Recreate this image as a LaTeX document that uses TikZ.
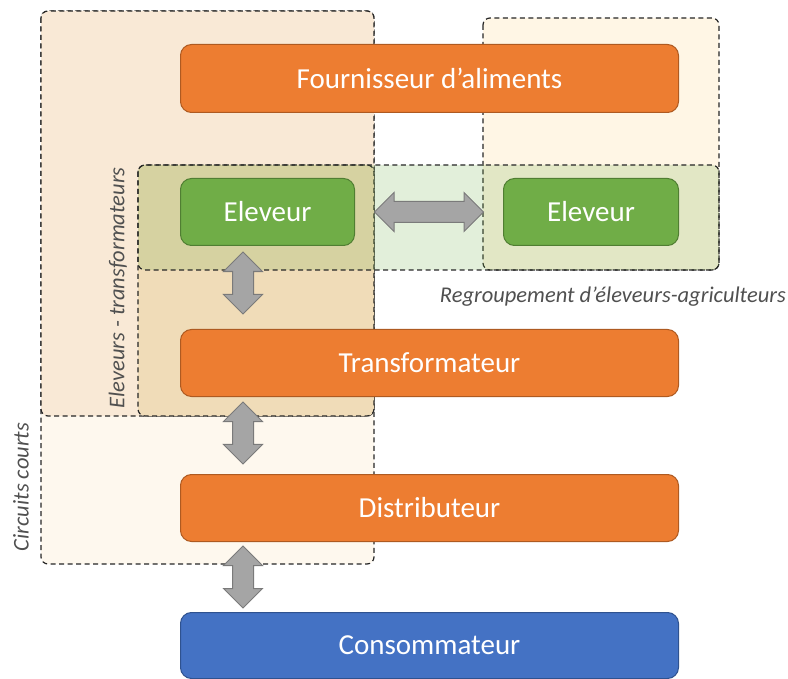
\documentclass[tikz,border=0pt]{standalone}
\usepackage{fontspec}
\setmainfont{Carlito}
\usetikzlibrary{shapes.arrows,calc}
\definecolor{orangebox}{HTML}{ED7D31}
\definecolor{orangeline}{HTML}{AE5A21}
\definecolor{greenbox}{HTML}{70AD47}
\definecolor{greenline}{HTML}{507E32}
\definecolor{bluebox}{HTML}{4472C4}
\definecolor{blueline}{HTML}{2F528F}
\definecolor{arrowfill}{HTML}{A5A5A5}
\definecolor{arrowline}{HTML}{7A7A7A}
\definecolor{ccfill}{HTML}{FEF8EE}
\definecolor{ccupper}{HTML}{F9E9D6}
\definecolor{etfill}{HTML}{F0DCB8}
\definecolor{rgfill}{HTML}{FFF6E5}
\definecolor{labelgray}{HTML}{505050}
\tikzset{
  region/.style={draw=black!85, line width=1.2pt, dash pattern=on 5pt off 3.5pt, rounded corners=7pt},
  boxbase/.style={rectangle, rounded corners=11pt, line width=1pt, text=white,
    font=\fontsize{29}{34}\selectfont, inner sep=0pt, anchor=north west},
  orangebox/.style={boxbase, fill=orangebox, draw=orangeline},
  greenbox/.style={boxbase, fill=greenbox, draw=greenline},
  bluebox/.style={boxbase, fill=bluebox, draw=blueline},
  blockarrow/.style={double arrow, fill=arrowfill, draw=arrowline, line width=1pt,
    inner sep=10pt, double arrow head extend=9pt, double arrow tip angle=90, minimum height=62pt},
  grouplabel/.style={text=labelgray, font=\fontsize{22.5}{26}\selectfont\itshape, inner sep=0pt}
}
\begin{document}
\begin{tikzpicture}[x=1pt,y=-1pt]
\useasboundingbox (0,0) rectangle (788,679);
% regions
\draw[region, fill=ccfill] (41,11) rectangle (374,564);
\draw[region, fill=ccupper] (41,11) rectangle (374,416);
\draw[region, fill=rgfill] (483,18) rectangle (719,270);
\draw[region, fill=etfill] (138,165) rectangle (374,416);
\draw[region, fill=greenbox, fill opacity=0.2] (138,165) rectangle (719,270);
% boxes
\node[orangebox, minimum width=498pt, minimum height=68pt] (four) at (180,44) {Fournisseur d’aliments};
\node[greenbox, minimum width=174pt, minimum height=67pt] (elevL) at (180,178) {Eleveur};
\node[greenbox, minimum width=175pt, minimum height=67pt] (elevR) at (503,178) {Eleveur};
\node[orangebox, minimum width=498pt, minimum height=67pt] (transf) at (180,329) {Transformateur};
\node[orangebox, minimum width=498pt, minimum height=67pt] (distr) at (180,474) {Distributeur};
\node[bluebox, minimum width=498pt, minimum height=66pt] (conso) at (180,612) {Consommateur};
% arrows
\node[blockarrow, rotate=90] (a1) at (243,283) {};
\node[blockarrow, rotate=90] (a2) at (243,433) {};
\node[blockarrow, rotate=90] (a3) at (243,577) {};
\node[blockarrow, minimum height=109pt] (a4) at ($(elevL.east)!0.5!(elevR.west)$) {};
% labels
\node[grouplabel, anchor=east] (lregroup) at (786,297) {Regroupement d’éleveurs-agriculteurs};
\node[grouplabel, rotate=90] (lelevtr) at (118,288) {Eleveurs - transformateurs};
\node[grouplabel, rotate=90] (lcircuits) at (21,487) {Circuits courts};
\end{tikzpicture}
\end{document}
